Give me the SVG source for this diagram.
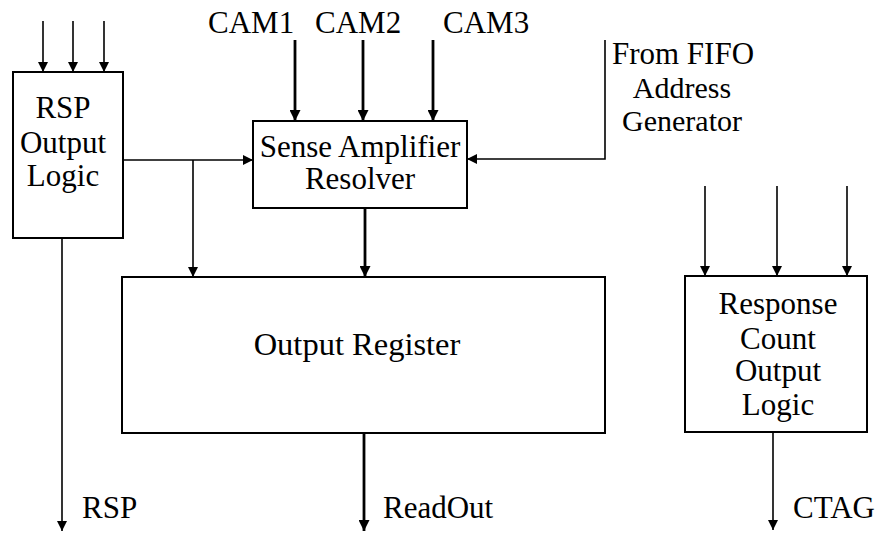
<svg xmlns="http://www.w3.org/2000/svg" width="878" height="536" viewBox="0 0 878 536">
  <defs>
    <marker id="arr" viewBox="0 0 10 10" refX="10" refY="5" markerWidth="11" markerHeight="10" markerUnits="userSpaceOnUse" orient="auto">
      <path d="M0,0 L10,5 L0,10 Z" fill="#000"/>
    </marker>
    <marker id="arrB" viewBox="0 0 10 10" refX="10" refY="5" markerWidth="12" markerHeight="11" markerUnits="userSpaceOnUse" orient="auto">
      <path d="M0,0 L10,5 L0,10 Z" fill="#000"/>
    </marker>
  </defs>
  <style>
    .box { fill: #fff; stroke: #000; stroke-width: 2; }
    .t { font-family: 'Liberation Serif', 'Times New Roman', serif; font-size: 31px; fill: #000; }
    .s { font-size: 30px; }
    .c { text-anchor: middle; }
    .w { fill: none; stroke: #000; stroke-width: 1.6; }
    .wb { fill: none; stroke: #000; stroke-width: 2.8; }
  </style>
  <rect width="878" height="536" fill="#fff"/>

  <!-- connectors -->
  <g id="connectors">
    <!-- inputs to RSP Output Logic -->
    <line class="w" x1="43" y1="21" x2="43" y2="72" marker-end="url(#arr)"/>
    <line class="w" x1="73" y1="21" x2="73" y2="72" marker-end="url(#arr)"/>
    <line class="w" x1="104" y1="21" x2="104" y2="72" marker-end="url(#arr)"/>
    <!-- CAM inputs -->
    <line class="wb" x1="295" y1="40" x2="295" y2="121" marker-end="url(#arrB)"/>
    <line class="wb" x1="363" y1="40" x2="363" y2="121" marker-end="url(#arrB)"/>
    <line class="wb" x1="433" y1="40" x2="433" y2="121" marker-end="url(#arrB)"/>
    <!-- FIFO address generator feed -->
    <polyline class="w" points="605,40 605,159 467,159" marker-end="url(#arr)"/>
    <!-- RSP logic to sense amplifier, with branch to the register -->
    <line class="w" x1="123" y1="160" x2="253" y2="160" marker-end="url(#arr)"/>
    <line class="w" x1="193" y1="160" x2="193" y2="277" marker-end="url(#arr)"/>
    <!-- sense amplifier to output register -->
    <line class="wb" x1="365" y1="208" x2="365" y2="277" marker-end="url(#arrB)"/>
    <!-- outputs -->
    <line class="w" x1="62" y1="238" x2="62" y2="531" marker-end="url(#arr)"/>
    <line class="wb" x1="364" y1="433" x2="364" y2="531" marker-end="url(#arrB)"/>
    <!-- inputs to response count logic -->
    <line class="w" x1="705" y1="186" x2="705" y2="276" marker-end="url(#arr)"/>
    <line class="w" x1="777" y1="186" x2="777" y2="276" marker-end="url(#arr)"/>
    <line class="w" x1="847" y1="186" x2="847" y2="276" marker-end="url(#arr)"/>
    <line class="w" x1="773" y1="432" x2="773" y2="530" marker-end="url(#arr)"/>
  </g>

  <g id="rsp-logic">
    <rect class="box" x="13" y="72" width="110" height="166"/>
    <text class="t c" x="63" y="118">RSP</text>
    <text class="t c" x="63" y="153">Output</text>
    <text class="t c" x="63" y="186">Logic</text>
  </g>

  <g id="sense-amp">
    <rect class="box" x="253" y="121" width="214" height="87"/>
    <text class="t c" x="360" y="157">Sense Amplifier</text>
    <text class="t c" x="360" y="189">Resolver</text>
  </g>

  <g id="output-register">
    <rect class="box" x="122" y="277" width="483" height="156"/>
    <text class="t c" x="357" y="355" style="font-size:32.5px">Output Register</text>
  </g>

  <g id="response-count">
    <rect class="box" x="685" y="276" width="182" height="156"/>
    <text class="t c" x="778" y="314">Response</text>
    <text class="t c" x="778" y="349">Count</text>
    <text class="t c" x="778" y="381">Output</text>
    <text class="t c" x="778" y="415">Logic</text>
  </g>

  <g id="labels">
    <text class="t" x="208" y="33">CAM1</text>
    <text class="t" x="315" y="33">CAM2</text>
    <text class="t" x="443" y="33">CAM3</text>
    <text class="t" x="612" y="64" textLength="142" lengthAdjust="spacingAndGlyphs">From FIFO</text>
    <text class="t s c" x="682" y="98">Address</text>
    <text class="t s c" x="682" y="131">Generator</text>
    <text class="t" x="82" y="518">RSP</text>
    <text class="t" x="383" y="518">ReadOut</text>
    <text class="t" x="793" y="518">CTAG</text>
  </g>
</svg>
